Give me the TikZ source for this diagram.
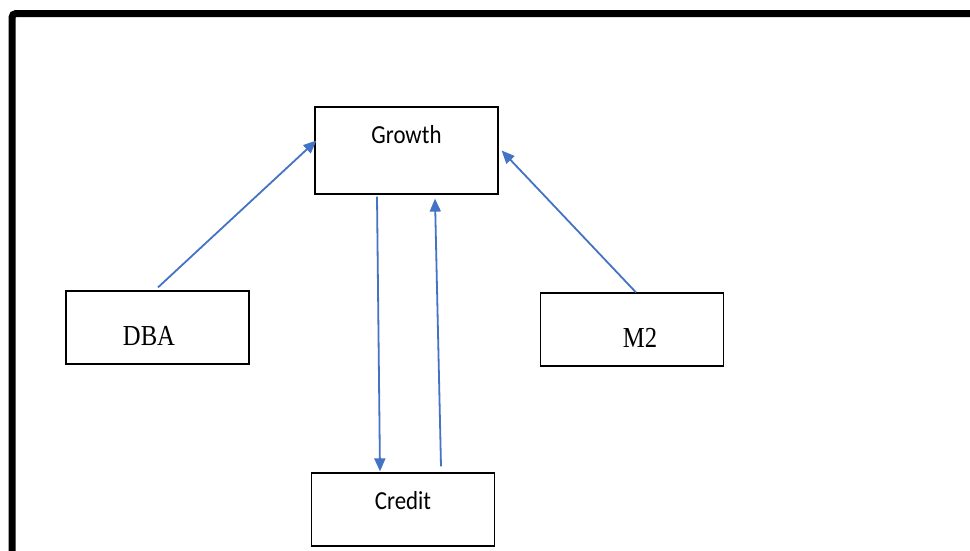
\documentclass[tikz,border=0pt]{standalone}
\usepackage{fontspec}
\usepackage{tikz}
\usetikzlibrary{positioning, arrows.meta}
\newfontfamily\carlitofont[FakeStretch=0.88]{Carlito}
\newfontfamily\timesfont[FakeStretch=0.85]{Liberation Serif}
\definecolor{arrowblue}{HTML}{4472C4}

\begin{document}
\begin{tikzpicture}[x=1pt,y=-1pt]
            \tikzset{box/.style={draw,line width=1.2pt,rectangle,inner sep=0pt,minimum width=183pt,minimum height=73pt},
                     sansbox/.style={box,font=\carlitofont\fontsize{26}{30}\selectfont,text height=17pt},
                     serifbox/.style={box,font=\timesfont\fontsize{29}{33}\selectfont,text height=36pt,text depth=0pt},
                     link/.style={arrowblue,line width=1.8pt,-{Triangle[length=13pt,width=11pt]}}}

            \useasboundingbox (0,0) rectangle (970,550);
            \clip (0,0) rectangle (970,550);

            % outer frame
            \draw[line width=7pt,rounded corners=4pt] (12,13.5) rectangle (1000,600);

            \node[sansbox,minimum height=87pt,text depth=31pt] (growth) at (406.5,150.5) {Growth};
            \node[sansbox,text depth=18pt] (credit) at (403,509.5) {Credit};
            \node[serifbox] (dba) at (157.5,327.5) {DBA\hspace*{17pt}};
            \node[serifbox] (m2) at (632,329.5) {\hspace*{16pt}M2};

            \draw[link] ([xshift=0.5pt,yshift=3pt]dba.north) -- ([xshift=2pt,yshift=10pt]growth.west);
            \draw[link] ([xshift=4pt]m2.north) -- ([xshift=3pt]growth.east);

            \draw[link] ([xshift=-29.5pt,yshift=-2pt]growth.south) -- ([xshift=-23pt,yshift=1pt]credit.north);
            \draw[link] ([xshift=38pt,yshift=6pt]credit.north) -- ([xshift=28.5pt,yshift=-4pt]growth.south);

\end{tikzpicture}
\end{document}
